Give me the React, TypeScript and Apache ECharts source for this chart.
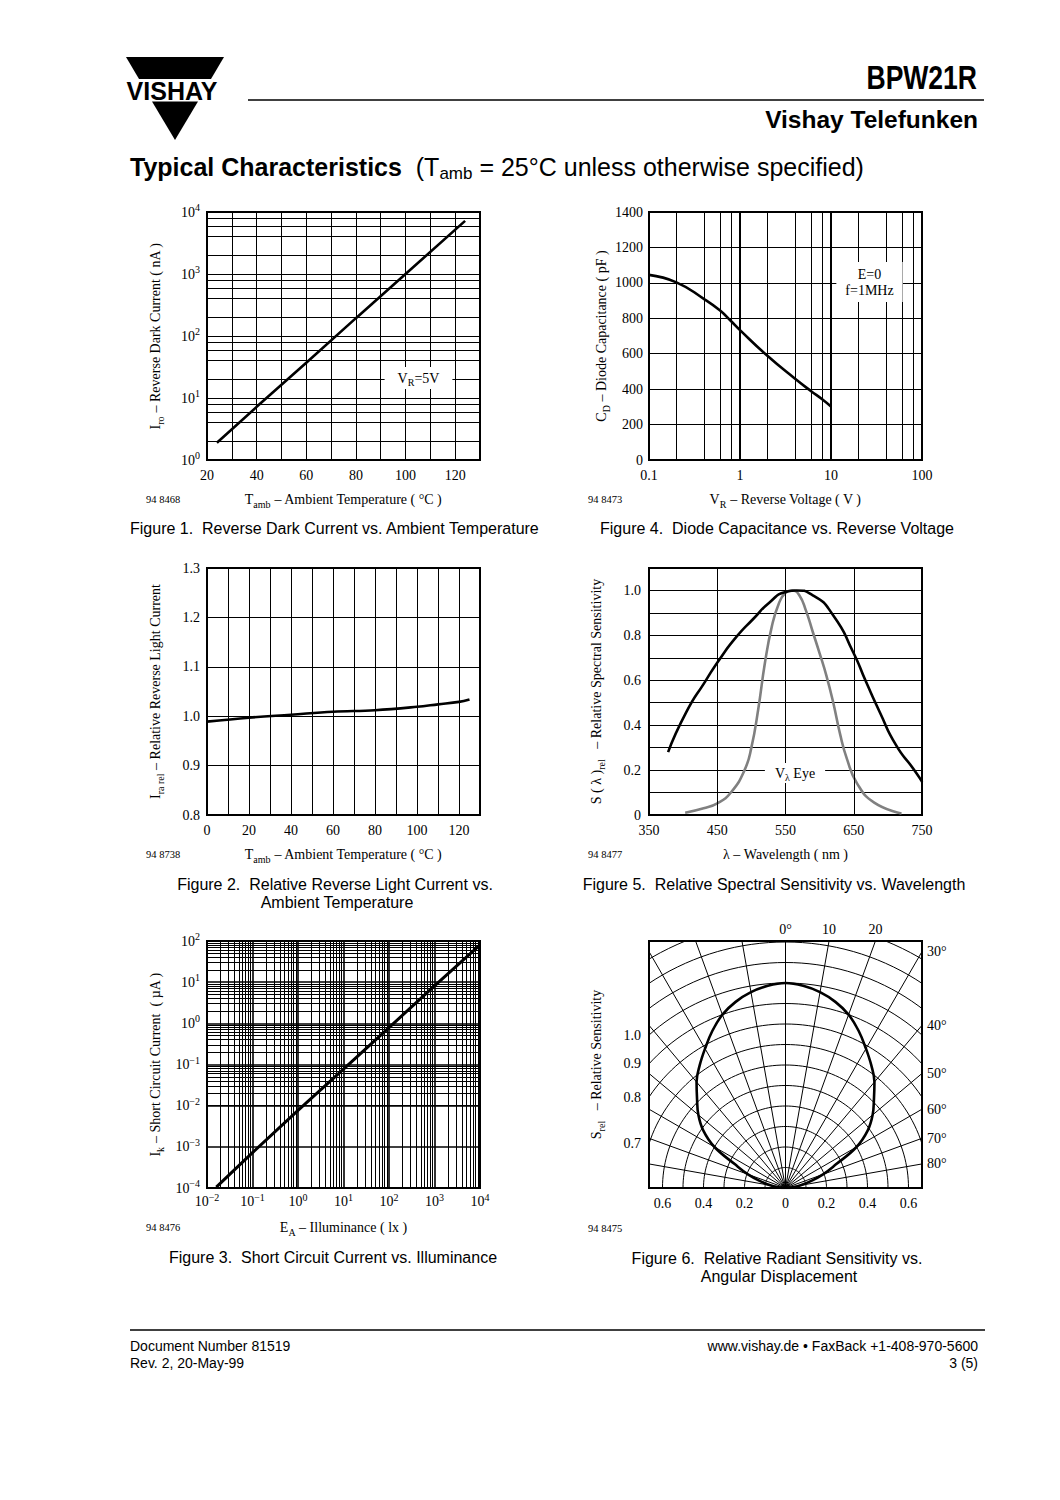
import React, { useEffect, useRef } from "react";
import * as echarts from "echarts";

const SERIF = "'Liberation Serif', 'Times New Roman', serif";
const SANS = "'Liberation Sans', Arial, Helvetica, sans-serif";

// ---------- Figure 1: Reverse dark current vs ambient temperature ----------
const fig1TempC = [24, 40, 60, 80, 100, 124];
const fig1DarkCurrentNA = [1.9, 7.2, 37, 194, 1000, 7200];
const fig1TempTicks = [20, 40, 60, 80, 100, 120];

// ---------- Figure 4: Diode capacitance vs reverse voltage ----------
const fig4VoltageV = [0.1, 0.2, 0.4, 0.6, 0.8, 1, 2, 4, 6, 8, 10];
const fig4CapacitancePF = [1045, 1003, 910, 845, 783, 733, 588, 460, 390, 343, 302];

// ---------- Figure 2: Relative reverse light current vs ambient temperature ----------
const fig2TempC = [0, 20, 40, 60, 80, 100, 110, 120, 125];
const fig2RelCurrent = [0.989, 0.997, 1.003, 1.009, 1.012, 1.019, 1.024, 1.029, 1.034];
const fig2TempTicks = [0, 20, 40, 60, 80, 100, 120];

// ---------- Figure 5: Relative spectral sensitivity vs wavelength ----------
const fig5WavelengthNm = [378, 405, 432, 454, 478, 503, 527, 550, 566, 590, 620, 649, 668, 688, 712, 737, 750];
const fig5Sensitivity = [0.28, 0.46, 0.593, 0.696, 0.793, 0.874, 0.948, 0.993, 1.0, 0.978, 0.889, 0.726, 0.593, 0.459, 0.311, 0.207, 0.148];
const fig5EyeWavelengthNm = [403, 430, 450, 470, 490, 500, 510, 520, 530, 540, 550, 560, 570, 580, 590, 600, 610, 620, 630, 640, 655, 680, 720];
const fig5EyeSensitivity = [0.01, 0.03, 0.052, 0.1, 0.2, 0.3, 0.47, 0.68, 0.84, 0.94, 0.99, 1.0, 0.98, 0.91, 0.815, 0.72, 0.62, 0.5, 0.36, 0.25, 0.14, 0.055, 0.007];
const fig5WavelengthTicks = [350, 450, 550, 650, 750];

// ---------- Figure 3: Short circuit current vs illuminance ----------
const fig3IlluminanceLx = [0.016, 0.1, 1, 10, 100, 1000, 10000];
const fig3CurrentUA = [1.05e-4, 7.2e-4, 0.0077, 0.077, 0.79, 8.1, 81];

// ---------- Figure 6: Relative radiant sensitivity vs angular displacement ----------
const fig6AngleDeg = [0, 5, 10, 15, 20, 25, 30, 35, 40, 45, 50, 55, 60, 65, 70, 75, 80, 85, 90];
const fig6Srel = [1.0, 0.99, 0.97, 0.94, 0.9, 0.845, 0.785, 0.73, 0.675, 0.61, 0.555, 0.49, 0.4, 0.27, 0.195, 0.125, 0.075, 0.035, 0];
const fig6BottomTicks = [-0.6, -0.4, -0.2, 0, 0.2, 0.4, 0.6];
const fig6RadiusTicks = [1.0, 0.9, 0.8, 0.7];
const fig6SideAngleTicks = [30, 40, 50, 60, 70, 80];
const fig6TopAngleTicks = [0, 10, 20];
const fig6GridRadii = [0.1, 0.2, 0.3, 0.4, 0.5, 0.6, 0.7, 0.8, 0.9, 1.0, 1.1, 1.2, 1.3, 1.4];
const fig6GridRays = [-80, -70, -60, -50, -40, -30, -20, -10, 0, 10, 20, 30, 40, 50, 60, 70, 80];

const DEG = Math.PI / 180;
const XH = 273 / 2 / 205; // half width of fig 6 plot in sensitivity units
const YMAX = 247 / 205; // height of fig 6 plot in sensitivity units

const zip = (xs: number[], ys: number[]) => xs.map((x, i) => [x, ys[i]]);
const minorLog = (e0: number, e1: number, ks: number[]) => {
  const out: number[] = [];
  for (let e = e0; e < e1; e++) for (const k of ks) out.push(parseFloat((k * Math.pow(10, e)).toPrecision(6)));
  return out;
};
const pow10Label = (v: number) => {
  const e = Math.round(Math.log10(v));
  return "10{sup|" + (e < 0 ? "\u2212" + -e : String(e)) + "}";
};

const FS = 14;
const rich = {
  sup: { fontFamily: SERIF, fontSize: 10, color: "#000", verticalAlign: "top" },
  sub: { fontFamily: SERIF, fontSize: 10, color: "#000", verticalAlign: "bottom" },
};
const tickLabel = (extra: any = {}) => ({
  color: "#000",
  fontFamily: SERIF,
  fontSize: FS,
  lineHeight: 19,
  margin: 7,
  rich,
  ...extra,
});
const nameStyle = { color: "#000", fontFamily: SERIF, fontSize: FS, lineHeight: 19, rich };
const grid = (left: number, top: number, width: number, height: number) => ({
  left,
  top,
  width,
  height,
  show: true,
  borderColor: "#000",
  borderWidth: 2,
  backgroundColor: "transparent",
});
const split = (width = 1) => ({ show: true, lineStyle: { color: "#000", width, type: "solid" } });
const noLine = { show: false };
const markLines = (data: any[]) => ({
  silent: true,
  symbol: ["none", "none"],
  label: { show: false },
  emphasis: { disabled: true },
  lineStyle: { color: "#000", width: 1, type: "solid" },
  data,
});
const curve = (xi: number, data: number[][], extra: any = {}) => ({
  type: "line",
  xAxisIndex: xi,
  yAxisIndex: xi,
  data,
  symbol: "none",
  silent: true,
  z: 3,
  lineStyle: { color: "#000", width: 2.6 },
  ...extra,
});

// polar grid of figure 6 (structure)
const polarGrid: number[][][] = [];
for (const r of fig6GridRadii) {
  const pts: number[][] = [];
  for (let a = -90; a <= 90; a += 2) pts.push([r * Math.sin(a * DEG), r * Math.cos(a * DEG)]);
  polarGrid.push(pts);
}
for (const a of fig6GridRays) polarGrid.push([[0, 0], [1.7 * Math.sin(a * DEG), 1.7 * Math.cos(a * DEG)]]);

const fig6Curve: number[][] = [];
for (let i = fig6AngleDeg.length - 1; i >= 1; i--)
  fig6Curve.push([-fig6Srel[i] * Math.sin(fig6AngleDeg[i] * DEG), fig6Srel[i] * Math.cos(fig6AngleDeg[i] * DEG)]);
for (let i = 0; i < fig6AngleDeg.length; i++)
  fig6Curve.push([fig6Srel[i] * Math.sin(fig6AngleDeg[i] * DEG), fig6Srel[i] * Math.cos(fig6AngleDeg[i] * DEG)]);

const txt = (x: number, y: number, text: string, extra: any = {}) => ({
  type: "text",
  x,
  y,
  z: 100,
  silent: true,
  style: {
    text,
    fontFamily: SANS,
    fontSize: 16,
    fill: "#000",
    align: "left",
    verticalAlign: "middle",
    ...extra,
  },
});
const serifTxt = (x: number, y: number, text: string, extra: any = {}) =>
  txt(x, y, text, { fontFamily: SERIF, fontSize: FS, ...extra });
const NB = "\u00a0";
const subRich = { sub: { fontFamily: SERIF, fontSize: 10, verticalAlign: "bottom" } };

const graphic: any[] = [
  // logo
  { type: "polygon", shape: { points: [[126, 57], [224, 57], [211, 79], [139, 79]] }, style: { fill: "#000" } },
  { type: "polygon", shape: { points: [[152, 101.5], [198, 101.5], [175, 140]] }, style: { fill: "#000" } },
  txt(172, 90.5, "VISHAY", { fontWeight: "bold", fontSize: 25, align: "center" }),
  // header
  { type: "line", shape: { x1: 248, y1: 100, x2: 984, y2: 100 }, style: { stroke: "#000", lineWidth: 1.3 } },
  { ...txt(977, 77, "BPW21R", { fontWeight: "bold", fontSize: 34, align: "right" }), scaleX: 0.78 },
  txt(978, 119, "Vishay Telefunken", { fontWeight: "bold", fontSize: 24.5, align: "right" }),
  txt(
    130,
    167,
    "{b|Typical Characteristics}{r|" + NB + NB + "(T}{s|amb}{r| = 25°C unless otherwise specified)}",
    {
      fontSize: 25,
      lineHeight: 30,
      rich: {
        b: { fontFamily: SANS, fontSize: 25, fontWeight: "bold", lineHeight: 30 },
        r: { fontFamily: SANS, fontSize: 25, lineHeight: 30 },
        s: { fontFamily: SANS, fontSize: 17, verticalAlign: "bottom" },
      },
    }
  ),
  // figure ids
  serifTxt(146, 499, "94 8468", { fontSize: 10.5 }),
  serifTxt(588, 499, "94 8473", { fontSize: 10.5 }),
  serifTxt(146, 854, "94 8738", { fontSize: 10.5 }),
  serifTxt(588, 854, "94 8477", { fontSize: 10.5 }),
  serifTxt(146, 1227, "94 8476", { fontSize: 10.5 }),
  serifTxt(588, 1228, "94 8475", { fontSize: 10.5 }),
  // annotations
  serifTxt(418.5, 378, "V{sub|R}=5V", {
    align: "center",
    backgroundColor: "#fff",
    padding: [2, 13, 2, 13],
    lineHeight: 18,
    rich: subRich,
  }),
  serifTxt(869.5, 282, "E=0\nf=1MHz", {
    align: "center",
    backgroundColor: "#fff",
    padding: [4, 9, 4, 9],
    lineHeight: 16,
  }),
  serifTxt(795, 773, "V{sub|λ} Eye", {
    align: "center",
    backgroundColor: "#fff",
    padding: [1, 10, 1, 10],
    lineHeight: 18,
    rich: subRich,
  }),
  // captions
  txt(130, 528, "Figure 1." + NB + NB + "Reverse Dark Current vs. Ambient Temperature"),
  txt(600, 528, "Figure 4." + NB + NB + "Diode Capacitance vs. Reverse Voltage"),
  txt(335, 884, "Figure 2." + NB + NB + "Relative Reverse Light Current vs.", { align: "center" }),
  txt(337, 902, "Ambient Temperature", { align: "center" }),
  txt(774, 884, "Figure 5." + NB + NB + "Relative Spectral Sensitivity vs. Wavelength", { align: "center" }),
  txt(333, 1257, "Figure 3." + NB + NB + "Short Circuit Current vs. Illuminance", { align: "center" }),
  txt(777, 1258, "Figure 6." + NB + NB + "Relative Radiant Sensitivity vs.", { align: "center" }),
  txt(779, 1276, "Angular Displacement", { align: "center" }),
  // footer
  { type: "line", shape: { x1: 130, y1: 1330, x2: 985, y2: 1330 }, style: { stroke: "#000", lineWidth: 1.3 } },
  txt(130, 1346, "Document Number 81519", { fontSize: 14 }),
  txt(130, 1363, "Rev. 2, 20-May-99", { fontSize: 14 }),
  txt(978, 1346, "www.vishay.de • FaxBack +1-408-970-5600", { fontSize: 14, align: "right" }),
  txt(978, 1363, "3 (5)", { fontSize: 14, align: "right" }),
];

const option: any = {
  animation: false,
  backgroundColor: "#fff",
  textStyle: { fontFamily: SERIF, color: "#000" },
  grid: [
    grid(207, 212, 273, 248),
    grid(649, 212, 273, 248),
    grid(207, 568, 273, 247),
    grid(649, 568, 273, 247),
    grid(207, 941, 273, 247),
    grid(649, 941, 273, 247),
  ],
  xAxis: [
    {
      gridIndex: 0,
      type: "value",
      min: 20,
      max: 130,
      interval: 10,
      axisLine: noLine,
      axisTick: noLine,
      splitLine: split(),
      axisLabel: tickLabel({ margin: 6, formatter: (v: number) => (fig1TempTicks.includes(v) ? String(v) : "") }),
      name: "T{sub|amb} – Ambient Temperature ( °C )",
      nameLocation: "middle",
      nameGap: 30,
      nameTextStyle: nameStyle,
    },
    {
      gridIndex: 1,
      type: "log",
      logBase: 10,
      min: 0.1,
      max: 100,
      splitNumber: 3,
      axisLine: noLine,
      axisTick: noLine,
      splitLine: split(2),
      axisLabel: tickLabel({ margin: 6, formatter: (v: number) => (v < 0.5 ? "0.1" : String(Math.round(v))) }),
      name: "V{sub|R} – Reverse Voltage ( V )",
      nameLocation: "middle",
      nameGap: 30,
      nameTextStyle: nameStyle,
    },
    {
      gridIndex: 2,
      type: "value",
      min: 0,
      max: 130,
      interval: 10,
      axisLine: noLine,
      axisTick: noLine,
      splitLine: split(),
      axisLabel: tickLabel({ margin: 6, formatter: (v: number) => (fig2TempTicks.includes(v) ? String(v) : "") }),
      name: "T{sub|amb} – Ambient Temperature ( °C )",
      nameLocation: "middle",
      nameGap: 30,
      nameTextStyle: nameStyle,
    },
    {
      gridIndex: 3,
      type: "value",
      min: 350,
      max: 750,
      axisLine: noLine,
      axisTick: noLine,
      splitLine: noLine,
      axisLabel: tickLabel({ margin: 6, customValues: fig5WavelengthTicks, formatter: (v: number) => String(Math.round(v)) }),
      name: "λ – Wavelength ( nm )",
      nameLocation: "middle",
      nameGap: 30,
      nameTextStyle: nameStyle,
    },
    {
      gridIndex: 4,
      type: "log",
      logBase: 10,
      min: 0.01,
      max: 10000,
      splitNumber: 6,
      axisLine: noLine,
      axisTick: noLine,
      splitLine: split(1.6),
      axisLabel: tickLabel({ margin: 4, formatter: pow10Label }),
      name: "E{sub|A} – Illuminance ( lx )",
      nameLocation: "middle",
      nameGap: 30,
      nameTextStyle: nameStyle,
    },
    {
      gridIndex: 5,
      type: "value",
      min: -XH,
      max: XH,
      axisLine: noLine,
      axisTick: noLine,
      splitLine: noLine,
      axisLabel: tickLabel({
        margin: 6,
        customValues: fig6BottomTicks,
        formatter: (v: number) => (Math.abs(v) < 1e-9 ? "0" : Math.abs(v).toFixed(1)),
      }),
    },
    {
      gridIndex: 5,
      type: "value",
      position: "top",
      min: -XH,
      max: XH,
      axisLine: noLine,
      axisTick: noLine,
      splitLine: noLine,
      axisLabel: tickLabel({
        margin: 2,
        customValues: fig6TopAngleTicks.map((a) => YMAX * Math.tan(a * DEG)),
        formatter: (v: number) => {
          const a = Math.round(Math.atan(v / YMAX) / DEG);
          return a === 0 ? "0°" : String(a);
        },
      }),
    },
  ],
  yAxis: [
    {
      gridIndex: 0,
      type: "log",
      logBase: 10,
      min: 1,
      max: 10000,
      splitNumber: 4,
      axisLine: noLine,
      axisTick: noLine,
      splitLine: split(),
      axisLabel: tickLabel({ formatter: pow10Label }),
      name: "I{sub|ro} – Reverse Dark Current ( nA )",
      nameLocation: "middle",
      nameGap: 42,
      nameTextStyle: nameStyle,
    },
    {
      gridIndex: 1,
      type: "value",
      min: 0,
      max: 1400,
      interval: 200,
      axisLine: noLine,
      axisTick: noLine,
      splitLine: split(),
      axisLabel: tickLabel({ margin: 6, formatter: (v: number) => String(v) }),
      name: "C{sub|D} – Diode Capacitance ( pF )",
      nameLocation: "middle",
      nameGap: 37,
      nameTextStyle: nameStyle,
    },
    {
      gridIndex: 2,
      type: "value",
      min: 0.8,
      max: 1.3,
      interval: 0.1,
      axisLine: noLine,
      axisTick: noLine,
      splitLine: split(),
      axisLabel: tickLabel({ formatter: (v: number) => v.toFixed(1) }),
      name: "I{sub|ra rel} – Relative Reverse Light Current",
      nameLocation: "middle",
      nameGap: 42,
      nameTextStyle: nameStyle,
    },
    {
      gridIndex: 3,
      type: "value",
      min: 0,
      max: 1.1,
      interval: 0.1,
      axisLine: noLine,
      axisTick: noLine,
      splitLine: split(),
      axisLabel: tickLabel({
        margin: 8,
        formatter: (v: number) => {
          const t = Math.round(v * 10);
          if (t % 2 !== 0 || t > 10) return "";
          return t === 0 ? "0" : (t / 10).toFixed(1);
        },
      }),
      name: "S ( λ ){sub|rel}" + NB + NB + " – Relative Spectral Sensitivity",
      nameLocation: "middle",
      nameGap: 43,
      nameTextStyle: nameStyle,
    },
    {
      gridIndex: 4,
      type: "log",
      logBase: 10,
      min: 0.0001,
      max: 100,
      splitNumber: 6,
      axisLine: noLine,
      axisTick: noLine,
      splitLine: split(1.6),
      axisLabel: tickLabel({ formatter: pow10Label }),
      name: "I{sub|k} – Short Circuit Current" + NB + NB + "( µA )",
      nameLocation: "middle",
      nameGap: 42,
      nameTextStyle: nameStyle,
    },
    {
      gridIndex: 5,
      type: "value",
      min: 0,
      max: YMAX,
      axisLine: noLine,
      axisTick: noLine,
      splitLine: noLine,
      axisLabel: tickLabel({
        margin: 8,
        customValues: fig6RadiusTicks.map((r) => Math.sqrt(r * r - XH * XH)),
        formatter: (v: number) => Math.sqrt(v * v + XH * XH).toFixed(1),
      }),
      name: "S{sub|rel}" + NB + NB + " – Relative Sensitivity",
      nameLocation: "middle",
      nameGap: 43,
      nameTextStyle: nameStyle,
    },
    {
      gridIndex: 5,
      type: "value",
      position: "right",
      min: 0,
      max: YMAX,
      axisLine: noLine,
      axisTick: noLine,
      splitLine: noLine,
      axisLabel: tickLabel({
        margin: 5,
        customValues: fig6SideAngleTicks.map((a) => XH / Math.tan(a * DEG)),
        formatter: (v: number) => Math.round(Math.atan(XH / v) / DEG) + "°",
      }),
    },
  ],
  series: [
    // fig 1
    {
      type: "line",
      xAxisIndex: 0,
      yAxisIndex: 0,
      data: [],
      silent: true,
      z: 1,
      markLine: markLines(minorLog(0, 4, [2, 4, 6, 8]).map((v) => ({ yAxis: v }))),
    },
    curve(0, zip(fig1TempC, fig1DarkCurrentNA)),
    // fig 4
    {
      type: "line",
      xAxisIndex: 1,
      yAxisIndex: 1,
      data: [],
      silent: true,
      z: 1,
      markLine: markLines(minorLog(-1, 2, [2, 4, 6, 8]).map((v) => ({ xAxis: v }))),
    },
    curve(1, zip(fig4VoltageV, fig4CapacitancePF), { smooth: 0.5 }),
    // fig 2
    curve(2, zip(fig2TempC, fig2RelCurrent), { smooth: 0.4 }),
    // fig 5
    {
      type: "line",
      xAxisIndex: 3,
      yAxisIndex: 3,
      data: [],
      silent: true,
      z: 1,
      markLine: markLines(fig5WavelengthTicks.slice(1, -1).map((v) => ({ xAxis: v }))),
    },
    curve(3, zip(fig5EyeWavelengthNm, fig5EyeSensitivity), {
      smooth: 0.5,
      lineStyle: { color: "#808080", width: 2.6 },
    }),
    curve(3, zip(fig5WavelengthNm, fig5Sensitivity), { smooth: 0.6, z: 4 }),
    // fig 3
    {
      type: "line",
      xAxisIndex: 4,
      yAxisIndex: 4,
      data: [],
      silent: true,
      z: 1,
      markLine: markLines([
        ...minorLog(-2, 4, [2, 3, 4, 5, 6, 7, 8, 9]).map((v) => ({ xAxis: v })),
        ...minorLog(-4, 2, [2, 3, 4, 5, 6, 7, 8, 9]).map((v) => ({ yAxis: v })),
      ]),
    },
    curve(4, zip(fig3IlluminanceLx, fig3CurrentUA), { lineStyle: { color: "#000", width: 3 } }),
    // fig 6
    {
      type: "lines",
      coordinateSystem: "cartesian2d",
      xAxisIndex: 5,
      yAxisIndex: 5,
      polyline: true,
      clip: true,
      silent: true,
      z: 1,
      lineStyle: { color: "#000", width: 1, opacity: 1 },
      data: polarGrid.map((coords) => ({ coords })),
    },
    curve(5, fig6Curve, { smooth: 0.4, clip: true }),
  ],
  graphic,
};

export default function App() {
  const ref = useRef<HTMLDivElement>(null);
  useEffect(() => {
    const chart = echarts.init(ref.current as HTMLDivElement, undefined, {
      renderer: "svg",
      width: 1060,
      height: 1500,
    });
    chart.setOption(option);
    return () => chart.dispose();
  }, []);
  return (
    <div
      ref={ref}
      style={{ position: "absolute", left: 0, top: 0, width: 1060, height: 1500, background: "#fff" }}
    />
  );
}
